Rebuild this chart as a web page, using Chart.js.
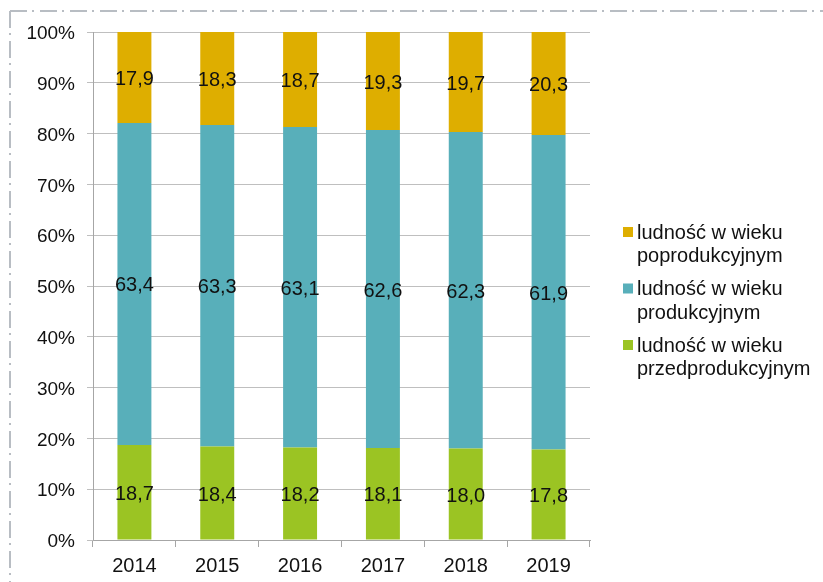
<!DOCTYPE html>
<html>
<head>
<meta charset="utf-8">
<script src="https://cdn.jsdelivr.net/npm/chart.js@4.4.1/dist/chart.umd.min.js"></script>
<style>
  html, body { margin: 0; padding: 0; background: #fff; }
  #wrap { width: 823px; height: 582px; }
</style>
</head>
<body>
<div id="wrap"><canvas id="ageChart" width="823" height="582"></canvas></div>
<script>
const years = ["2014", "2015", "2016", "2017", "2018", "2019"];
const preWorking = [18.7, 18.4, 18.2, 18.1, 18.0, 17.8];
const working = [63.4, 63.3, 63.1, 62.6, 62.3, 61.9];
const postWorking = [17.9, 18.3, 18.7, 19.3, 19.7, 20.3];
const seriesNames = [
  ["ludność w wieku", "przedprodukcyjnym"],
  ["ludność w wieku", "produkcyjnym"],
  ["ludność w wieku", "poprodukcyjnym"],
];

const green = "#9bc423";
const teal = "#58afba";
const yellow = "#deae00";
const fontFamily = "'Liberation Sans', Arial, sans-serif";

// dash-dot frame on top and left
const framePlugin = {
  id: "frame",
  beforeDraw(chart) {
    const ctx = chart.ctx;
    ctx.save();
    ctx.strokeStyle = "#b8bdc3";
    ctx.lineWidth = 2;
    ctx.setLineDash([17, 5, 2, 6]);
    ctx.beginPath();
    ctx.moveTo(10, 11);
    ctx.lineTo(chart.width, 11);
    ctx.moveTo(10, 11);
    ctx.lineTo(10, chart.height);
    ctx.stroke();
    ctx.restore();
  },
};

// value labels centred in each segment
const valueLabels = {
  id: "valueLabels",
  afterDatasetsDraw(chart) {
    const ctx = chart.ctx;
    ctx.save();
    ctx.font = "20px " + fontFamily;
    ctx.fillStyle = "#111";
    ctx.textAlign = "center";
    ctx.textBaseline = "middle";
    chart.data.datasets.forEach((ds, i) => {
      chart.getDatasetMeta(i).data.forEach((bar, j) => {
        const p = bar.getCenterPoint();
        ctx.fillText(ds.data[j].toFixed(1).replace(".", ","), p.x, p.y + 2);
      });
    });
    ctx.restore();
  },
};

// legend on the right, top series first, two-line labels
const sideLegend = {
  id: "sideLegend",
  afterDraw(chart) {
    const ctx = chart.ctx;
    ctx.save();
    ctx.font = "20px " + fontFamily;
    ctx.textBaseline = "middle";
    ctx.textAlign = "left";
    const order = [2, 1, 0];
    order.forEach((idx, k) => {
      const ds = chart.data.datasets[idx];
      const y = 232 + k * 56.5;
      ctx.fillStyle = ds.backgroundColor;
      ctx.fillRect(623, y - 5, 10, 10);
      ctx.fillStyle = "#111";
      ds.label.forEach((line, n) => {
        ctx.fillText(line, 637, y + 1 + n * 23.5);
      });
    });
    ctx.restore();
  },
};

new Chart(document.getElementById("ageChart"), {
  type: "bar",
  data: {
    labels: years,
    datasets: [
      { label: seriesNames[0], data: preWorking, backgroundColor: green },
      { label: seriesNames[1], data: working, backgroundColor: teal },
      { label: seriesNames[2], data: postWorking, backgroundColor: yellow },
    ],
  },
  options: {
    responsive: false,
    animation: false,
    categoryPercentage: 1,
    barPercentage: 0.41,
    layout: { padding: { top: 32, right: 233, left: 0, bottom: 0 } },
    plugins: {
      legend: { display: false },
      tooltip: { enabled: false },
    },
    scales: {
      x: {
        stacked: true,
        afterFit(scale) { scale.height = 42; },
        grid: { drawOnChartArea: false, color: "#a6a6a6", tickLength: 7 },
        border: { color: "#a6a6a6" },
        ticks: { color: "#111", font: { size: 20, family: fontFamily }, padding: 7 },
      },
      y: {
        stacked: true,
        min: 0,
        max: 100,
        afterFit(scale) { scale.width = 93; },
        grid: { color: "#bfbfbf", tickLength: 6 },
        border: { color: "#a6a6a6" },
        ticks: {
          stepSize: 10,
          color: "#111",
          padding: 12,
          labelOffset: 2,
          font: { size: 19, family: fontFamily },
          callback: (v) => v + "%",
        },
      },
    },
  },
  plugins: [framePlugin, valueLabels, sideLegend],
});
</script>
</body>
</html>
